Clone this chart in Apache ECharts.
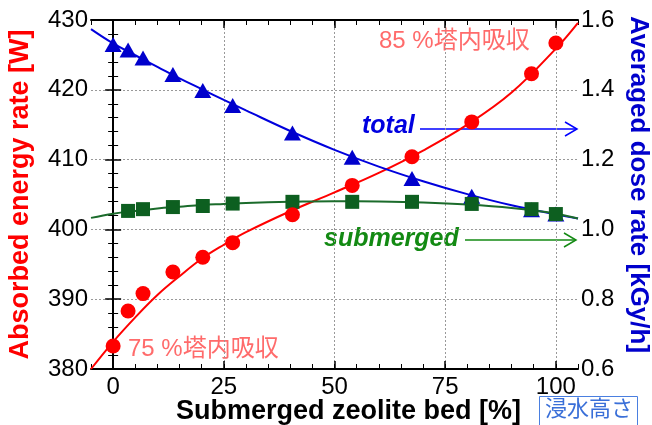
<!DOCTYPE html>
<html><head><meta charset="utf-8">
<script src="https://cdn.jsdelivr.net/npm/echarts@6/dist/echarts.min.js"></script>
<style>html,body{margin:0;padding:0;background:#fff}#c{width:652px;height:425px}</style>
</head><body><div id="c"></div>
<script>
// ---- data ----
const xPos = [0, 3.375, 6.75, 13.5, 20.25, 27, 40.5, 54, 67.5, 81, 94.5, 100];
const absorbed = [383.3, 388.3, 390.8, 393.9, 396.0, 398.1, 402.1, 406.3, 410.4, 415.4, 422.3, 426.7];
const totalDose = [1.530, 1.514, 1.491, 1.444, 1.398, 1.355, 1.276, 1.207, 1.146, 1.095, 1.056, 1.044];
const submergedX = [3.375, 6.75, 13.5, 20.25, 27, 40.5, 54, 67.5, 81, 94.5, 100];
const submergedDose = [1.053, 1.058, 1.064, 1.067, 1.074, 1.079, 1.079, 1.079, 1.073, 1.058, 1.044];
// fitted curves
const fitX = [-5, 0, 5, 10, 15, 20, 25, 30, 40, 50, 60, 70, 80, 90, 100, 105];
const absorbedFit = [380.0, 383.9, 387.4, 390.6, 393.3, 395.8, 397.8, 399.6, 402.6, 405.3, 408.1, 411.3, 415.0, 419.6, 425.9, 429.6];
const totalFit = [1.574, 1.533, 1.499, 1.466, 1.433, 1.402, 1.371, 1.341, 1.282, 1.228, 1.180, 1.138, 1.101, 1.069, 1.043, 1.031];
const submergedFit = [1.033, 1.045, 1.053, 1.060, 1.065, 1.070, 1.073, 1.076, 1.079, 1.081, 1.080, 1.077, 1.071, 1.061, 1.045, 1.031];
// ticks
const xMajorTicks = [0, 25, 50, 75, 100];
const leftTicks = [380, 390, 400, 410, 420, 430];
const rightTicks = [0.6, 0.8, 1.0, 1.2, 1.4, 1.6];

const FONT = "'Liberation Sans', Arial, 'Noto Sans CJK JP', sans-serif";
const zip = (a, b) => a.map((v, i) => [v, b[i]]);

const chart = echarts.init(document.getElementById('c'), null, {renderer: 'canvas'});
const lblStyle = {color: '#000', fontSize: 24, fontFamily: FONT};
const gridLine = {show: true, lineStyle: {color: '#999', width: 1, type: [2, 2]}};
const blackLine = {show: true, lineStyle: {color: '#000', width: 2}};

const option = {
  animation: false,
  backgroundColor: '#fff',
  grid: {left: 91, right: 74, top: 20, bottom: 56, containLabel: false, outerBoundsMode: 'none'},
  xAxis: [
    {type: 'value', min: -5, max: 105, position: 'bottom',
     axisLine: blackLine,
     axisTick: {show: true, inside: true, length: 8, customValues: xMajorTicks, lineStyle: {color: '#000', width: 1.5}},
     axisLabel: Object.assign({customValues: xMajorTicks, margin: 6}, lblStyle),
     splitLine: gridLine,
     name: 'Submerged zeolite bed [%]', nameLocation: 'middle', nameGap: 29, nameMoveOverlap: false,
     nameTextStyle: {color: '#000', fontSize: 27, fontWeight: 'bold', fontFamily: FONT, padding: [0, 0, 0, 28]}},
    {type: 'value', min: -5, max: 105, interval: 5, position: 'bottom',
     axisLine: {show: false}, axisLabel: {show: false}, splitLine: {show: false},
     axisTick: {show: true, inside: true, length: 5, lineStyle: {color: '#000', width: 1}}},
    {type: 'value', min: -5, max: 105, position: 'top',
     axisLine: blackLine, axisLabel: {show: false}, splitLine: {show: false},
     axisTick: {show: true, inside: true, length: 8, customValues: xMajorTicks, lineStyle: {color: '#000', width: 1.5}}},
    {type: 'value', min: -5, max: 105, interval: 5, position: 'top',
     axisLine: {show: false}, axisLabel: {show: false}, splitLine: {show: false},
     axisTick: {show: true, inside: true, length: 5, lineStyle: {color: '#000', width: 1}}}
  ],
  yAxis: [
    {type: 'value', min: leftTicks[0], max: leftTicks[leftTicks.length - 1], interval: 10, position: 'left',
     axisLine: blackLine,
     axisTick: {show: true, inside: true, length: 8, lineStyle: {color: '#000', width: 1.5}},
     minorTick: {show: true, splitNumber: 5, length: 5, lineStyle: {color: '#000', width: 1}},
     axisLabel: Object.assign({margin: 3}, lblStyle),
     splitLine: gridLine,
     name: 'Absorbed energy rate [W]', nameLocation: 'middle', nameGap: 57, nameRotate: 90, nameMoveOverlap: false,
     nameTextStyle: {color: '#ff0000', fontSize: 27, fontWeight: 'bold', fontFamily: FONT}},
    {type: 'value', min: rightTicks[0], max: rightTicks[rightTicks.length - 1], interval: 0.2, position: 'right',
     axisLine: blackLine,
     axisTick: {show: true, inside: true, length: 8, lineStyle: {color: '#000', width: 1.5}},
     minorTick: {show: true, splitNumber: 5, length: 5, lineStyle: {color: '#000', width: 1}},
     axisLabel: Object.assign({margin: 3, formatter: v => v.toFixed(1)}, lblStyle),
     splitLine: {show: false},
     name: 'Averaged dose rate [kGy/h]', nameLocation: 'middle', nameGap: 47, nameRotate: -90, nameMoveOverlap: false,
     nameTextStyle: {color: '#0000cc', fontSize: 26, fontWeight: 'bold', fontFamily: FONT, padding: [0, 20, 0, 0]}}
  ],
  series: [
    {name: 'absorbedFit', type: 'line', xAxisIndex: 0, yAxisIndex: 0, data: zip(fitX, absorbedFit),
     smooth: 0.4, showSymbol: false, lineStyle: {color: '#ff0000', width: 2}, z: 2, silent: true},
    {name: 'totalFit', type: 'line', xAxisIndex: 0, yAxisIndex: 1, data: zip(fitX, totalFit),
     smooth: 0.4, showSymbol: false, lineStyle: {color: '#0000dd', width: 2}, z: 2, silent: true},
    {name: 'submergedFit', type: 'line', xAxisIndex: 0, yAxisIndex: 1, data: zip(fitX, submergedFit),
     smooth: 0.4, showSymbol: false, lineStyle: {color: '#1b6b2b', width: 2}, z: 2, silent: true},
    {name: 'total', type: 'scatter', xAxisIndex: 0, yAxisIndex: 1, data: zip(xPos, totalDose),
     symbol: 'triangle', symbolSize: [17, 15], itemStyle: {color: '#0000cc', opacity: 1}, z: 3},
    {name: 'submerged', type: 'scatter', xAxisIndex: 0, yAxisIndex: 1, data: zip(submergedX, submergedDose),
     symbol: 'rect', symbolSize: 14, itemStyle: {color: '#0d5f20', opacity: 1}, z: 4},
    {name: 'absorbed', type: 'scatter', xAxisIndex: 0, yAxisIndex: 0, data: zip(xPos, absorbed),
     symbol: 'circle', symbolSize: 15, itemStyle: {color: '#ff0000', opacity: 1}, z: 5}
  ],
  graphic: [
    {type: 'text', left: 379, top: 29, style: {text: '85 %塔内吸収', fill: '#ff6b6b', fontSize: 24, fontFamily: FONT}},
    {type: 'text', left: 128, top: 337, style: {text: '75 %塔内吸収', fill: '#ff6b6b', fontSize: 24, fontFamily: FONT}},
    {type: 'text', left: 362, top: 114, style: {text: 'total', fill: '#0000e0', fontSize: 25, fontWeight: 'bold', fontStyle: 'italic', fontFamily: FONT}},
    {type: 'text', left: 324, top: 227, style: {text: 'submerged', fill: '#138a13', fontSize: 25, fontWeight: 'bold', fontStyle: 'italic', fontFamily: FONT}},
    {type: 'polyline', shape: {points: [[420, 129], [577, 129]]}, style: {stroke: '#0000ff', lineWidth: 1.5, fill: null}},
    {type: 'polyline', shape: {points: [[565, 122], [577, 129], [565, 136]]}, style: {stroke: '#0000ff', lineWidth: 1.5, fill: null}},
    {type: 'polyline', shape: {points: [[465, 240], [576, 240]]}, style: {stroke: '#138a13', lineWidth: 1.5, fill: null}},
    {type: 'polyline', shape: {points: [[564, 233], [576, 240], [564, 247]]}, style: {stroke: '#138a13', lineWidth: 1.5, fill: null}},
    {type: 'rect', shape: {x: 539.5, y: 396.5, width: 98, height: 35}, style: {fill: '#fff', stroke: '#4a7fe0', lineWidth: 1}},
    {type: 'text', left: 545, top: 399, style: {text: '浸水高さ', fill: '#3a6fd8', fontSize: 22, fontFamily: FONT}}
  ]
};
chart.setOption(option);
</script>
</body></html>
